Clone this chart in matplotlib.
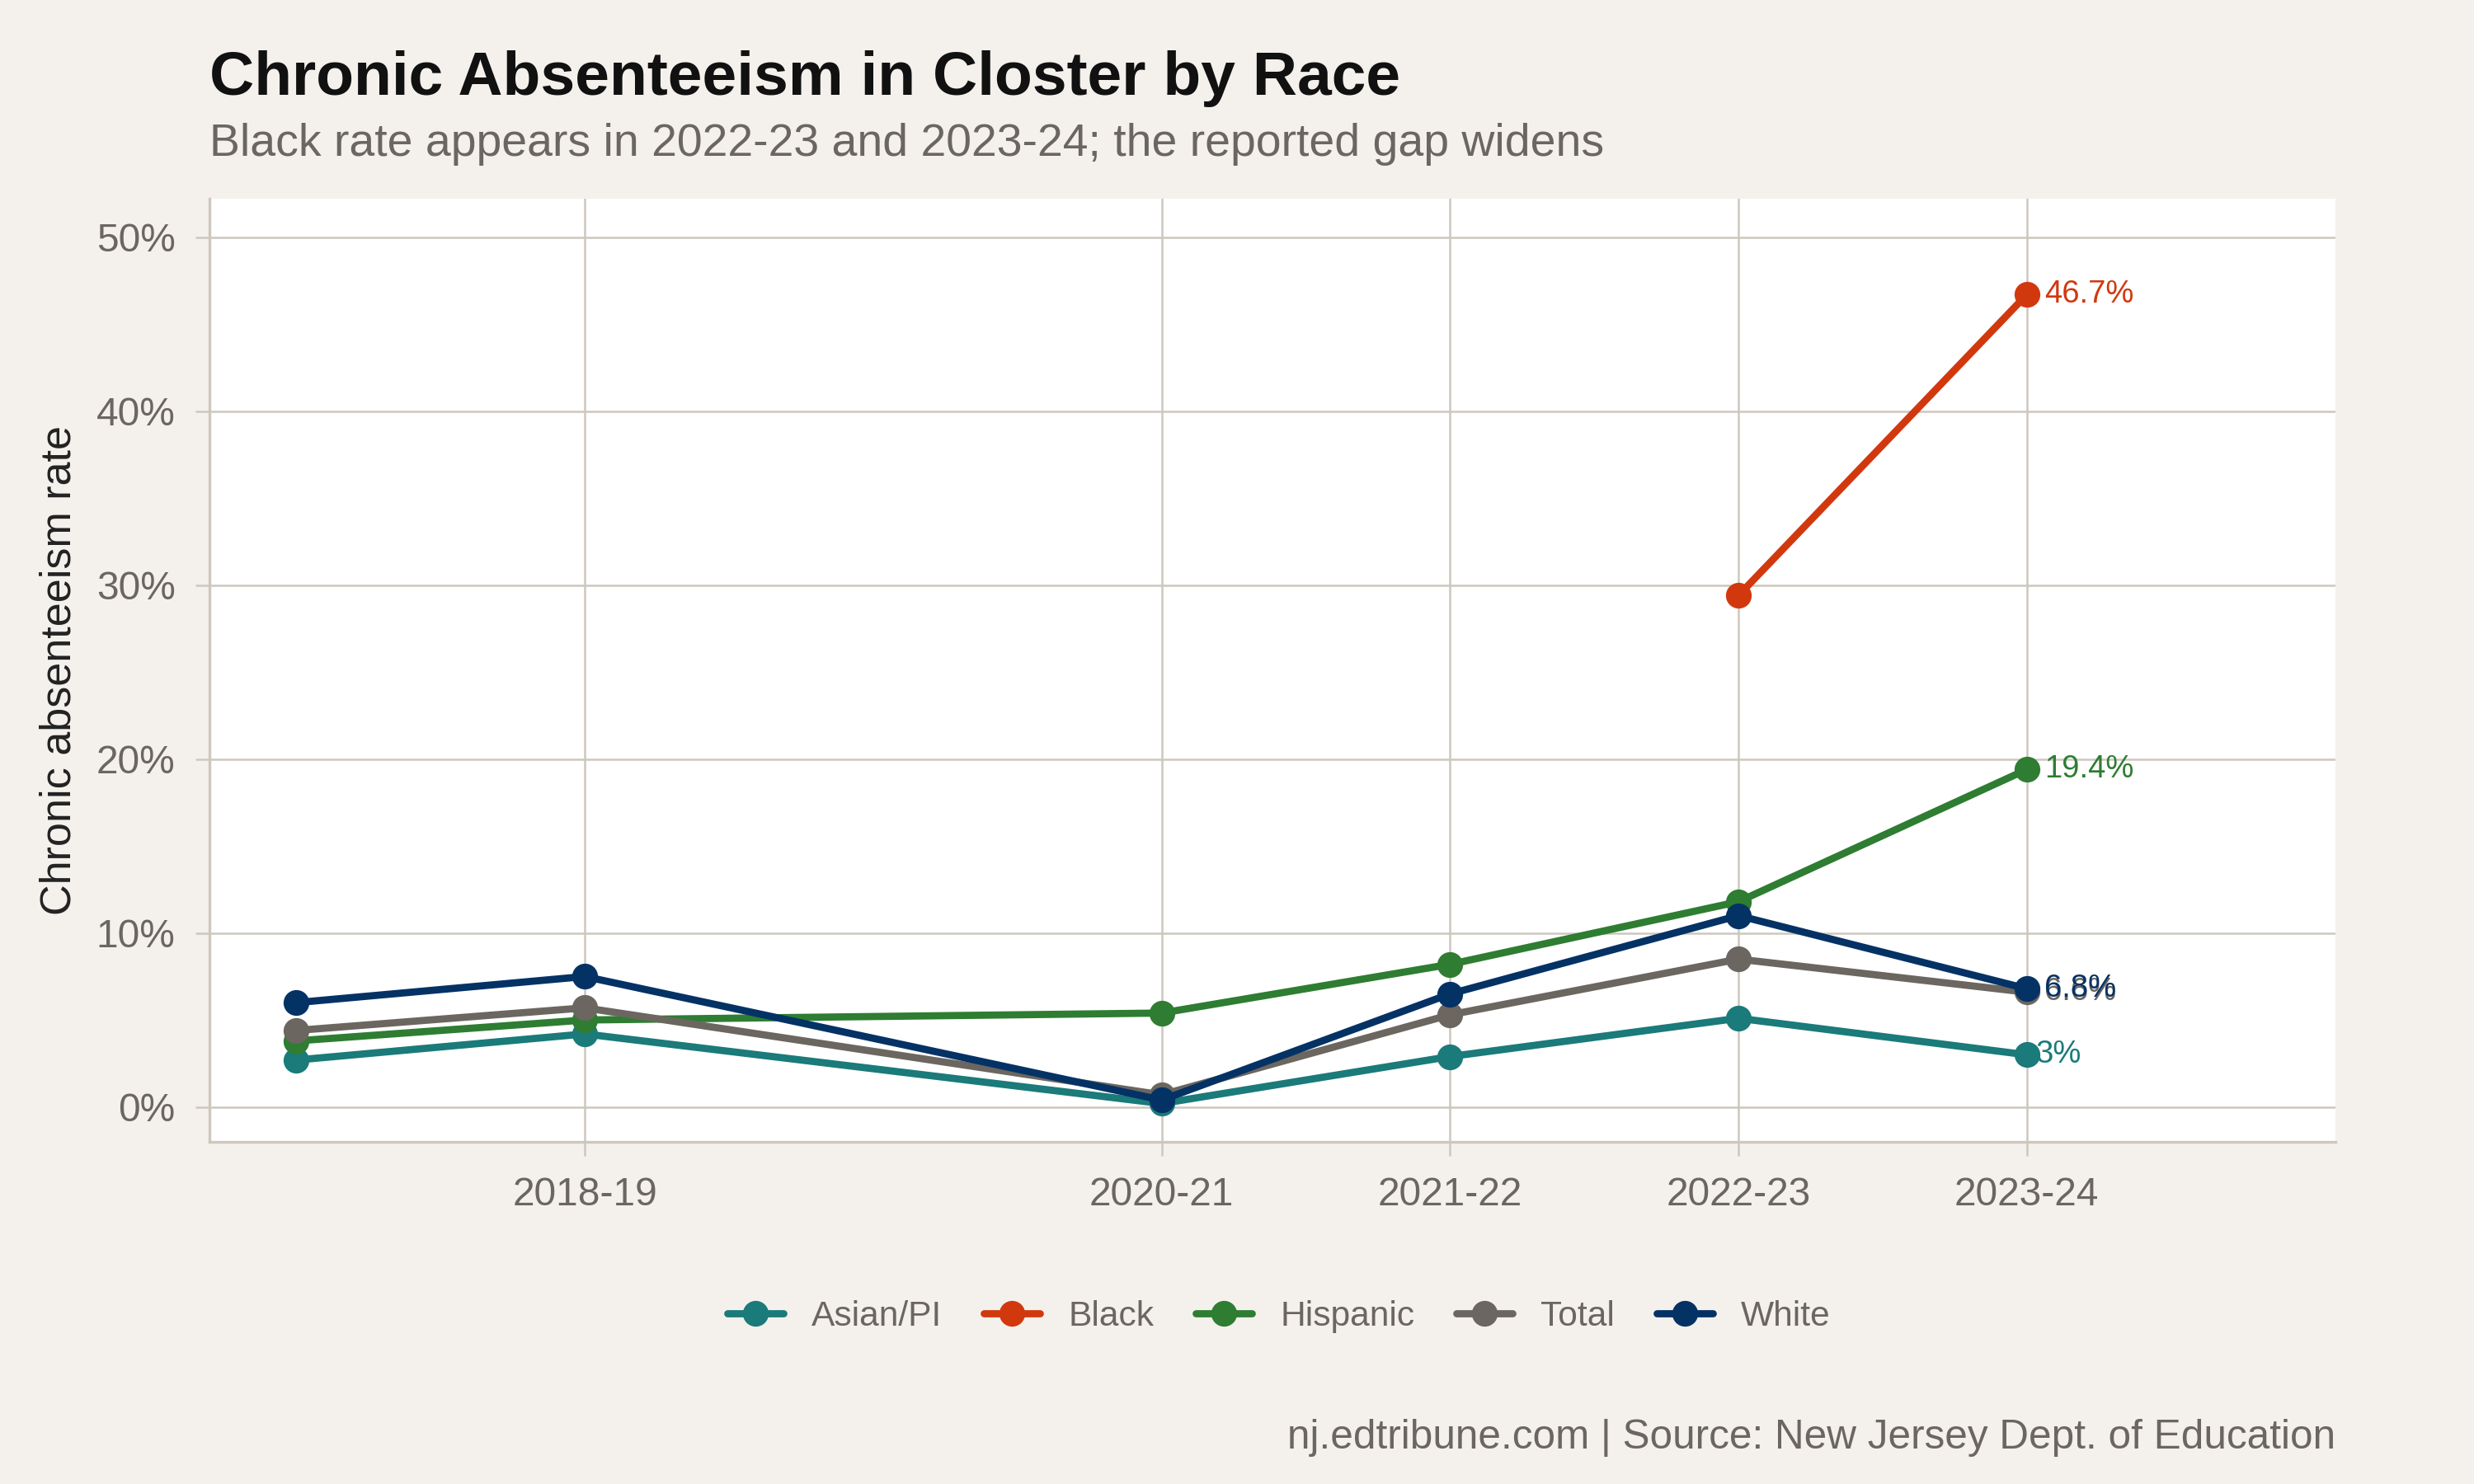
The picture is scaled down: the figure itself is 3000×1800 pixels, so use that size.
import matplotlib.pyplot as plt
from matplotlib.ticker import FuncFormatter

plt.rcParams['font.family'] = ['Liberation Sans', 'DejaVu Sans']

# school years as start year; 2019-20 missing
years = [2017, 2018, 2020, 2021, 2022, 2023]
tick_years = [2018, 2020, 2021, 2022, 2023]
tick_labels = ["2018-19", "2020-21", "2021-22", "2022-23", "2023-24"]

asian = [2.7, 4.2, 0.2, 2.9, 5.1, 3.0]
black_years = [2022, 2023]
black = [29.4, 46.7]
hispanic = [3.8, 5.0, 5.4, 8.2, 11.8, 19.4]
total = [4.4, 5.7, 0.7, 5.3, 8.5, 6.6]
white = [6.0, 7.5, 0.4, 6.5, 11.0, 6.8]

series = [
    ("Asian/PI", years, asian, "#1b7a7a", "3%"),
    ("Black", black_years, black, "#d2380e", "46.7%"),
    ("Hispanic", years, hispanic, "#2e7d32", "19.4%"),
    ("Total", years, total, "#6b6660", "6.6%"),
    ("White", years, white, "#043265", "6.8%"),
]

bg = "#f4f1ec"
grid_col = "#cdc7be"
text_grey = "#6b6660"

fig = plt.figure(figsize=(10, 6), dpi=300, facecolor=bg)
ax = fig.add_axes([0.0848, 0.2306, 0.8592, 0.6354])
ax.set_facecolor("white")

for name, xs, ys, col, lab in series:
    ax.plot(xs, ys, color=col, lw=2.1, marker='o', ms=6.5, label=name,
            solid_capstyle='round', zorder=3)
    dx = 0.03 if lab == "3%" else 0.06
    ax.text(xs[-1] + dx, ys[-1], lab, color=col, fontsize=9.2, va='center', ha='left', zorder=4)

ax.set_xlim(2016.70, 2024.07)
ax.set_ylim(-2.0, 52.2)
ax.set_xticks(tick_years)
ax.set_xticklabels(tick_labels)
ax.set_yticks([0, 10, 20, 30, 40, 50])
ax.yaxis.set_major_formatter(FuncFormatter(lambda v, _: f"{v:.0f}%"))

ax.grid(True, color=grid_col, lw=0.6)
ax.set_axisbelow(True)
for s in ["top", "right"]:
    ax.spines[s].set_visible(False)
for s in ["left", "bottom"]:
    ax.spines[s].set_color(grid_col)
    ax.spines[s].set_linewidth(0.8)
ax.tick_params(colors=grid_col, labelcolor=text_grey, labelsize=11.5, length=4, width=0.6)
ax.tick_params(axis='x', pad=6)
ax.tick_params(axis='y', pad=6)

ax.set_ylabel("Chronic absenteeism rate", fontsize=12.5, color="#222222", labelpad=5)

fig.text(0.0848, 0.947, "Chronic Absenteeism in Closter by Race", fontsize=18,
         fontweight='bold', color="#111111", va='center', ha='left')
fig.text(0.0848, 0.903, "Black rate appears in 2022-23 and 2023-24; the reported gap widens",
         fontsize=13.3, color=text_grey, va='center', ha='left')
fig.text(0.944, 0.031, "nj.edtribune.com | Source: New Jersey Dept. of Education",
         fontsize=11.9, color=text_grey, va='center', ha='right')

leg = fig.legend(loc='center', bbox_to_anchor=(0.517, 0.1126), ncol=5, frameon=False,
                 fontsize=10.2, handlelength=1.6, columnspacing=1.2, handletextpad=0.8)
for t in leg.get_texts():
    t.set_color(text_grey)

fig.savefig("out.png", dpi=300, facecolor=bg)
